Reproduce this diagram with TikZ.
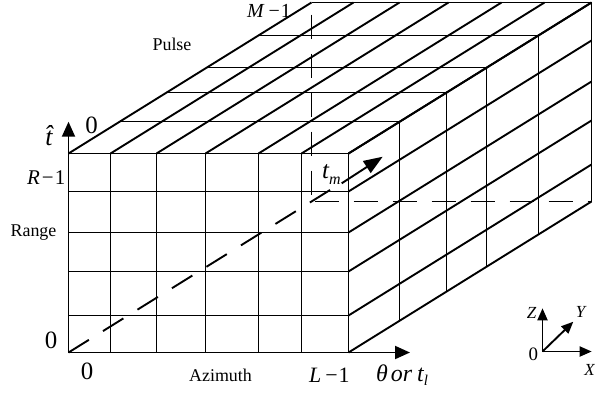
\documentclass[tikz,border=0pt]{standalone}
\usepackage{fontspec}
\setmainfont{Liberation Serif}
\usetikzlibrary{arrows.meta,calc}
\tikzset{
  gridline/.style={line width=1.9bp},
  hidden/.style={line width=1.9bp, dash pattern=on 24bp off 15bp},
  bigarrow/.style={line width=1.9bp, -{Triangle[length=15bp,width=13bp]}},
  smallarrow/.style={line width=1.9bp, -{Triangle[length=12bp,width=10bp]}},
  lbl/.style={inner sep=0pt, font=\fontsize{18}{20}\selectfont},
  numlbl/.style={inner sep=0pt, font=\fontsize{25}{27}\selectfont},
  framelbl/.style={inner sep=0pt, font=\fontsize{17}{19}\selectfont\itshape},
}
\begin{document}
\begin{tikzpicture}[x=1bp,y=-1bp]
\useasboundingbox (0,0) rectangle (595,396);
% key coordinates
\coordinate (O) at (68.5,352.5);
\coordinate (FTL) at (68.5,153.5);
\coordinate (FBR) at (348.5,352.5);
\coordinate (BTL) at (311.5,2.5);
\coordinate (BBL) at (311.5,201.5);
\coordinate (BBR) at (591.5,201.5);
% front face
\draw[gridline] (FTL) rectangle (FBR);
\foreach \x in {110.5,156.5,205.5,258.5,301.5}
  \draw[gridline] (\x,153.5) -- (\x,352.5);
\foreach \y in {191.5,232.5,271.5,315.5}
  \draw[gridline] (68.5,\y) -- (348.5,\y);
% top face
\foreach \x in {68.5,110.5,156.5,205.5,258.5,301.5,348.5}
  \draw[gridline] (\x,153.5) -- ++(243,-151);
\foreach \dx/\dy in {51/32,98/61,138/86,190/118,243/151}
  \draw[gridline] ({68.5+\dx},{153.5-\dy}) -- ++(280,0);
% right face
\foreach \y in {153.5,191.5,232.5,271.5,315.5,352.5}
  \draw[gridline] (348.5,\y) -- ++(243,-151);
\foreach \dx/\dy in {51/32,98/61,138/86,190/118,243/151}
  \draw[gridline] ({348.5+\dx},{153.5-\dy}) -- ++(0,199);
% hidden edges
\draw[hidden, dash phase=27bp] (BTL) -- (BBL);
\draw[hidden, dash phase=36bp] (BBL) -- (BBR);
% t_m axis
\coordinate (TMa) at (330,190);
\coordinate (TMb) at (341.7,183.3);
\coordinate (TMtip) at (382.7,156.7);
\draw[line width=1.9bp, dash pattern=on 24bp off 16.6bp] (O) -- (TMa);
\draw[line width=1.9bp, -{Triangle[length=19bp,width=14bp]}] (TMb) -- (TMtip);
% main axes
\coordinate (Ttip) at (68.5,121.7);
\coordinate (Htip) at (410,352.5);
\draw[bigarrow] (FTL) -- (Ttip);
\draw[bigarrow] (FBR) -- (Htip);
% labels
\node[lbl, font=\fontsize{20}{22}\selectfont, anchor=base west] (m1) at (247,17) {\textit{M}\hspace{4pt}−\hspace{1pt}1};
\node[lbl] (pulse) at (172,44) {Pulse};
\node[numlbl] (z1) at (91.5,125.5) {0};
\node[inner sep=0pt, font=\fontsize{26}{28}\selectfont\itshape] (that) at (49,135.5) {t̂};
\node[lbl, font=\fontsize{21}{23}\selectfont, anchor=base west] (r1) at (27,184) {\textit{R}\hspace{2pt}−\hspace{1pt}1};
\node[lbl] (range) at (33.5,233) {Range};
\node[numlbl] (z2) at (51,340) {0};
\node[numlbl] (z3) at (87,371.5) {0};
\node[lbl] (azi) at (220.5,375) {Azimuth};
\node[lbl, font=\fontsize{22}{24}\selectfont, anchor=base west] (l1) at (309,382) {\textit{L}\hspace{4pt}−\hspace{1pt}1};
\node[inner sep=0pt, font=\fontsize{24}{26}\selectfont\itshape, anchor=base west] (theta) at (376,381.5) {θ\hspace{3pt}or\hspace{5pt}t\raisebox{-4pt}{\fontsize{15}{15}\selectfont l}};
\node[inner sep=0pt, font=\fontsize{25}{27}\selectfont\itshape, anchor=base west] (tm) at (322,178.5) {t\raisebox{-6pt}{\fontsize{16}{16}\selectfont m}};
% coordinate frame
\coordinate (C) at (542.5,351.5);
\coordinate (Ztip) at (542.5,308.3);
\coordinate (Xtip) at (591.7,351.5);
\coordinate (Ytip) at (573.3,321.7);
\draw[smallarrow] (C) -- (Ztip);
\draw[smallarrow] (C) -- (Xtip);
\draw[smallarrow] (C) -- (Ytip);
\node[framelbl] (zl) at (531.5,313.3) {Z};
\node[framelbl] (yl) at (580.5,311.7) {Y};
\node[framelbl] (xl) at (589.5,370) {X};
\node[framelbl, font=\fontsize{19}{21}\selectfont] (ol) at (533.3,354) {0};
\end{tikzpicture}
\end{document}
